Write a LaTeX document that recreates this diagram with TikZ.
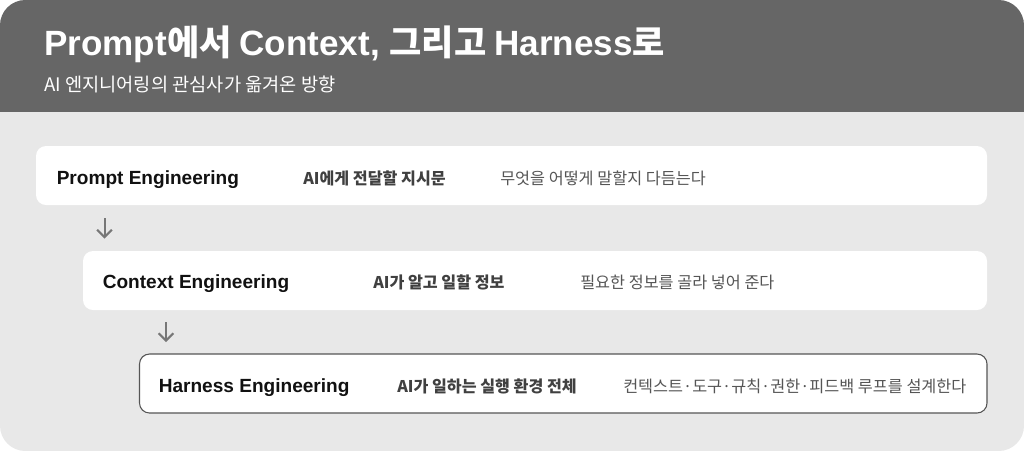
\documentclass[tikz,border=0pt]{standalone}
\usepackage{fontspec}
\setmainfont{Noto Sans CJK KR}
\newfontfamily\kr{Noto Sans CJK KR}
\newfontfamily\lat{Liberation Sans}
\usetikzlibrary{arrows.meta,fit}
\definecolor{hdr}{HTML}{666666}
\definecolor{cardbg}{HTML}{E8E8E8}
\definecolor{maintxt}{HTML}{111111}
\definecolor{subtxt}{HTML}{404040}
\definecolor{desctxt}{HTML}{555555}
\definecolor{arrgray}{HTML}{777777}
\definecolor{bordergray}{HTML}{555555}
\tikzset{
  stagebox/.style={draw=none, fill=white, rounded corners=7.5pt, inner sep=0pt},
  stageboxb/.style={stagebox, draw=bordergray, line width=0.8pt},
  titletxt/.style={anchor=base west, inner sep=0pt, text=white, font=\bfseries\fontsize{26.3}{31}\selectfont},
  subtitletxt/.style={anchor=base west, inner sep=0pt, text=white, font=\kr\fontsize{14}{17}\selectfont},
  mainlbl/.style={anchor=base west, inner sep=0pt, text=maintxt, font=\lat\bfseries\fontsize{14.3}{17}\selectfont},
  sublbl/.style={anchor=base west, inner sep=0pt, text=subtxt, font=\kr\bfseries\fontsize{12.1}{14}\selectfont},
  desclbl/.style={anchor=base west, inner sep=0pt, text=desctxt, font=\kr\fontsize{12.2}{14}\selectfont},
  downarr/.style={draw=arrgray, line width=1.5pt, -{Straight Barb[length=5.5pt,width=11pt,line width=1.5pt]}}
}
\begin{document}
\begin{tikzpicture}[x=0.75pt,y=-0.75pt]
\useasboundingbox (0,0) rectangle (1024,451);
\begin{scope}
  \clip[rounded corners=19pt] (0,0) rectangle (1024,451);
  \fill[cardbg] (0,0) rectangle (1024,451);
  \fill[hdr] (0,0) rectangle (1024,112);
\end{scope}
\node[titletxt] (title) at (44,55) {\lat Prompt\kr 에서 \lat Context, \kr 그리고 \lat Harness\kr 로};
\node[subtitletxt] (subtitle) at (44,91) {AI 엔지니어링의 관심사가 옮겨온 방향};

\node[stagebox, fit={(36,146) (987,205)}] (b1) {};
\node[stagebox, fit={(83,251) (987,310)}] (b2) {};
\node[stageboxb, fit={(139.5,354) (987,413)}] (b3) {};

\node[mainlbl] (m1) at (56.5,184) {Prompt Engineering};
\node[sublbl] (s1) at (303,184) {AI에게 전달할 지시문};
\node[desclbl] (d1) at (500,184) {무엇을 어떻게 말할지 다듬는다};

\node[mainlbl] (m2) at (102.5,288.5) {Context Engineering};
\node[sublbl] (s2) at (373,288.5) {AI가 알고 일할 정보};
\node[desclbl] (d2) at (580,288.5) {필요한 정보를 골라 넣어 준다};

\node[mainlbl] (m3) at (158.5,392) {Harness Engineering};
\node[sublbl] (s3) at (397,392) {AI가 일하는 실행 환경 전체};
\node[desclbl] (d3) at (623,392) {컨텍스트·도구·규칙·권한·피드백 루프를 설계한다};

\coordinate (a1s) at (104.5,218);
\coordinate (a1e) at (104.5,238.5);
\coordinate (a2s) at (166,322);
\coordinate (a2e) at (166,342);
\draw[downarr] (a1s) -- (a1e);
\draw[downarr] (a2s) -- (a2e);
\end{tikzpicture}
\end{document}
